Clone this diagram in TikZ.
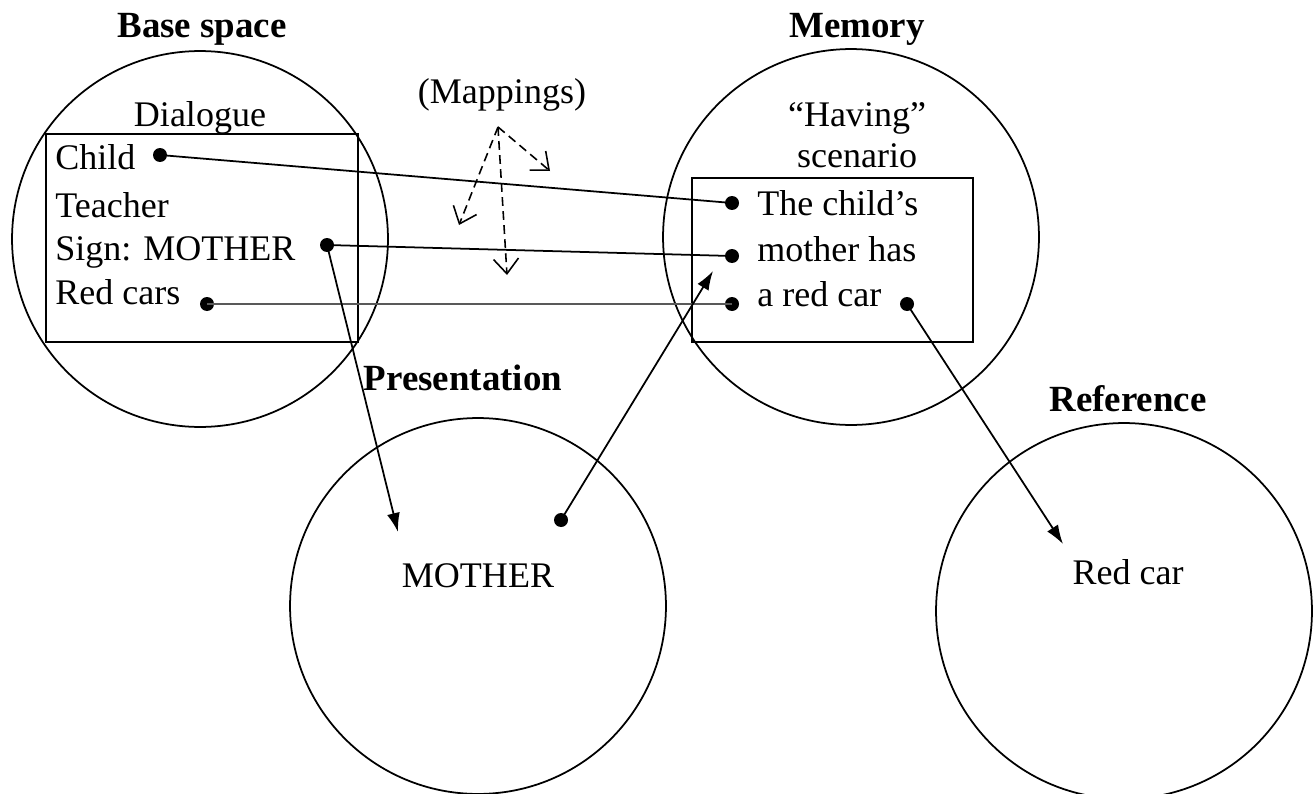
\documentclass[tikz,border=0pt]{standalone}
\usepackage{fontspec}
\setmainfont{Liberation Serif}
\usetikzlibrary{arrows.meta}
\begin{document}
\begin{tikzpicture}[x=0.02cm,y=-0.02cm,
  every node/.style={font=\fontsize{20.5}{24}\selectfont, inner sep=0pt},
  circ/.style={draw, circle, line width=1pt, minimum size=7.52cm},
  lbl/.style={anchor=base, font=\fontsize{21}{25}\selectfont\bfseries},
  txt/.style={anchor=base west},
  ctr/.style={anchor=base},
  dot/.style={circle, fill=black, minimum size=0.28cm},
  link/.style={line width=1pt},
  arr/.style={line width=1pt, -{Latex[length=0.38cm,width=0.26cm]}},
  map/.style={line width=0.9pt, dashed, dash pattern=on 5pt off 3pt, -{Straight Barb[length=0.3cm,width=0.5cm]}}
]
\useasboundingbox (0,0) rectangle (1315,794);
% circles
\node[circ] (base) at (200,239) {};
\node[circ] (mem) at (851,237) {};
\node[circ] (pres) at (478,606) {};
\node[circ] (ref) at (1124,611) {};
% boxes
\draw[line width=1pt] (46,134) rectangle (358,342);
\draw[line width=1pt] (692,178) rectangle (973,342);
% labels
\node[lbl] (lbase) at (202,38) {Base space};
\node[lbl] (lmem) at (857,38) {Memory};
\node[lbl] (lpres) at (463,390) {Presentation};
\node[lbl] (lref) at (1128,411) {Reference};
\node[ctr] (lmap) at (502,104) {(Mappings)};
% dialogue
\node[ctr] (dial) at (200,127) {Dialogue};
\node[txt] (child) at (55,170) {Child};
\node[txt] (teacher) at (55,217) {Teacher};
\node[txt] (sign) at (55,260) {Sign: MOTHER};
\node[txt] (redcars) at (55,304) {Red cars};
% having
\node[ctr] (having) at (857,127) {``Having''};
\node[ctr] (scen) at (857,168) {scenario};
\node[txt] (l1) at (757,215) {The child's};
\node[txt] (l2) at (757,261) {mother has};
\node[txt] (l3) at (757,306) {a red car};
% inner texts
\node[ctr] (mother) at (478,587) {MOTHER};
\node[ctr] (redcar) at (1128,584) {Red car};
% dots
\node[dot] (dchild) at (160,155) {};
\node[dot] (dsign) at (327,245) {};
\node[dot] (dred) at (207,304) {};
\node[dot] (dm1) at (732,203) {};
\node[dot] (dm2) at (732,256) {};
\node[dot] (dm3) at (732,304) {};
\node[dot] (dcar) at (907,304) {};
\node[dot] (dpres) at (561,520) {};
% arrow ends
\coordinate (tpres) at (398,532);
\coordinate (tmem) at (713,271);
\coordinate (tref) at (1063,544);
% links
\draw[link] (dchild.center) -- (dm1.center);
\draw[link] (dsign.center) -- (dm2.center);
\draw[link, black!65, line width=1.5pt] (dred.center) -- (dm3.center);
\draw[arr] (dsign.center) -- (tpres);
\draw[arr] (dpres.center) -- (tmem);
\draw[arr] (dcar.center) -- (tref);
% mappings
\coordinate (m0) at (498,127);
\coordinate (ma) at (550,171);
\coordinate (mb) at (459,225);
\coordinate (mc) at (507,275);
\draw[map] (m0) -- (ma);
\draw[map] (m0) -- (mb);
\draw[map] (m0) -- (mc);
\end{tikzpicture}
\end{document}
